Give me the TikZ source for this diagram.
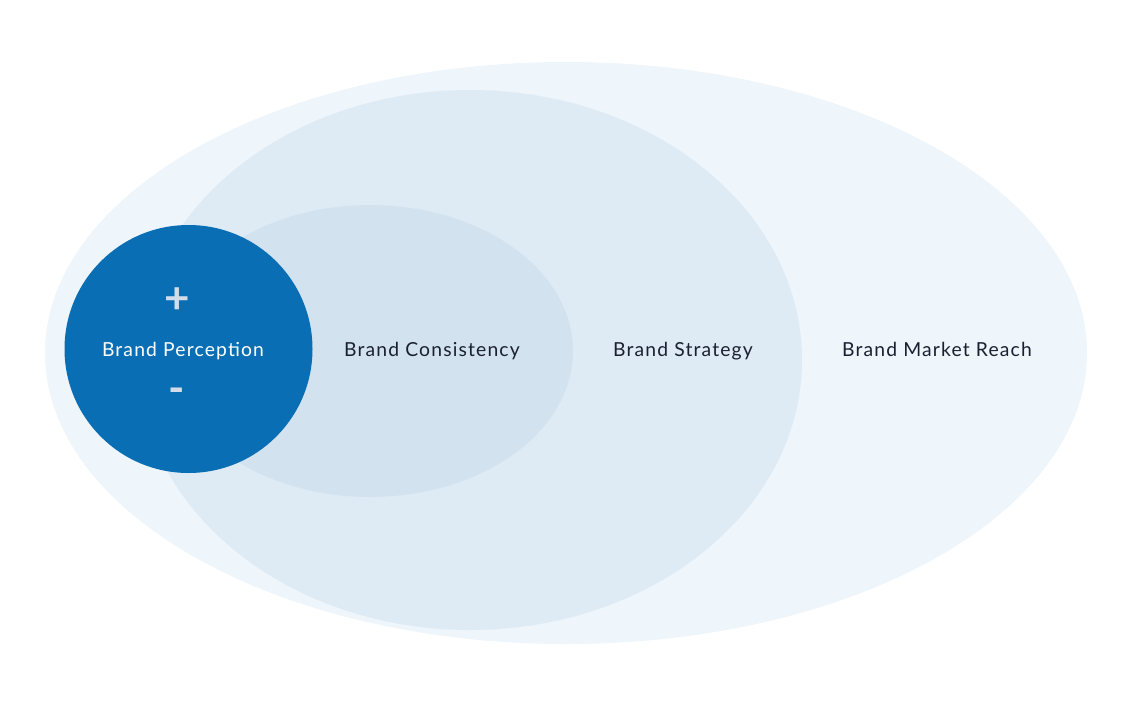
\documentclass[tikz,border=0pt]{standalone}
\usepackage{fontspec}
\setmainfont{Lato}
\newfontfamily\spacedlato[LetterSpace=6]{Lato}
\usepackage{xcolor}
\usetikzlibrary{positioning,shapes.geometric}
\definecolor{reachbg}{HTML}{EEF5FB}
\definecolor{strategybg}{HTML}{DEEBF5}
\definecolor{consistbg}{HTML}{D2E3EF}
\definecolor{percepbg}{HTML}{0A6EB4}
\definecolor{labeltext}{HTML}{1B2030}
\definecolor{signtext}{HTML}{D3DDEA}

\begin{document}
\begin{tikzpicture}[
  blob/.style={ellipse, inner sep=0pt, draw=none},
  label/.style={anchor=base, font=\spacedlato\fontsize{11}{13}\selectfont, text=labeltext},
  sign/.style={font=\fontsize{25}{27}\selectfont\bfseries, text=signtext},
]
  \useasboundingbox[fill=white] (0,0) rectangle (22.86,-14.40);
  % nested areas, outermost first
  \node[blob, fill=reachbg, minimum width=20.84cm, minimum height=11.64cm] (reach) at (11.32,-7.06) {};
  \node[blob, fill=strategybg, minimum width=13.28cm, minimum height=10.80cm] (strategy) at (9.40,-7.20) {};
  \node[blob, fill=consistbg, minimum width=8.12cm, minimum height=5.84cm] (consist) at (7.40,-7.02) {};
  \node[circle, inner sep=0pt, fill=percepbg, minimum size=4.96cm] (percep) at (3.77,-6.98) {};
  % labels
  \node[label, text=white] (percepname) at (3.66,-7.12) {Brand Perception};
  \node[sign] (plus) at (3.54,-6.02) {+};
  \node[sign] (minus) at (3.54,-7.92) {-};
  \node[label] (consistname) at (8.64,-7.12) {Brand Consistency};
  \node[label] (strategyname) at (13.66,-7.12) {Brand Strategy};
  \node[label] (reachname) at (18.74,-7.12) {Brand Market Reach};
\end{tikzpicture}
\end{document}
